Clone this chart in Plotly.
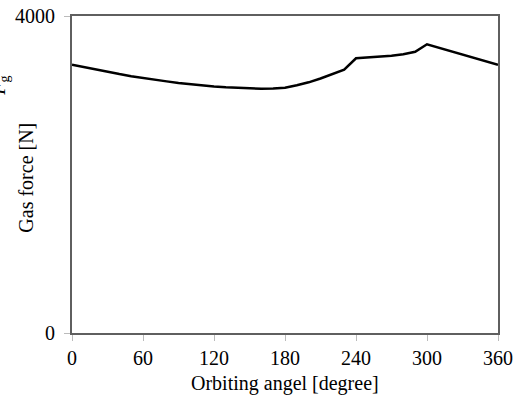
import plotly.graph_objects as go

angle = [0, 10, 20, 30, 40, 50, 60, 70, 80, 90, 100, 110, 120, 130, 140, 150, 160, 170,
         180, 190, 200, 210, 220, 230, 240, 250, 260, 270, 280, 290, 300, 310, 320, 330,
         340, 350, 360]
gas_force = [3386, 3354, 3323, 3294, 3267, 3241, 3217, 3195, 3175, 3156, 3139, 3124, 3111,
             3100, 3092, 3086, 3083, 3086, 3096, 3126, 3163, 3212, 3264, 3322, 3466, 3474,
             3485, 3499, 3518, 3548, 3643, 3600, 3557, 3513, 3470, 3426, 3384]
x_ticks = [0, 60, 120, 180, 240, 300, 360]
y_ticks = [0, 4000]

font = "Liberation Serif, Times New Roman, serif"
axcol = "#5f5f5f"
fs = 20

fig = go.Figure()
fig.add_trace(go.Scatter(x=angle, y=gas_force, mode="lines",
                         line=dict(color="black", width=2.5), showlegend=False))

fig.update_layout(
    width=522, height=402,
    margin=dict(l=72, r=24, t=16, b=69, autoexpand=False),
    paper_bgcolor="white", plot_bgcolor="white",
    font=dict(family=font, size=fs, color="black"),
)
fig.update_xaxes(range=[0, 360], tickvals=x_ticks, showgrid=False, zeroline=False,
                 showline=True, linecolor=axcol, linewidth=2, mirror=True,
                 ticks="outside", ticklen=6, tickcolor="#bbbbbb", tickwidth=1,
                 automargin=False, tickfont=dict(family=font, size=fs))
fig.update_yaxes(range=[0, 4000], tickvals=y_ticks, showgrid=False, zeroline=False,
                 showline=True, linecolor=axcol, linewidth=2, mirror=True,
                 ticks="outside", ticklen=6, tickcolor="#bbbbbb", tickwidth=1,
                 ticklabelstandoff=5,
                 automargin=False, tickfont=dict(family=font, size=fs))

# axis titles
fig.add_annotation(text="Orbiting angel [degree]", xref="paper", yref="paper",
                   x=0.5, y=0, yshift=-50, yanchor="middle", showarrow=False,
                   font=dict(family=font, size=fs))
fig.add_annotation(text="Gas force [N]", xref="paper", yref="paper",
                   x=0, xshift=-46, y=0.49, xanchor="center", yanchor="middle",
                   showarrow=False, textangle=-90, font=dict(family=font, size=fs))
fig.add_annotation(text="<i>F</i><sub>g</sub>", xref="paper", yref="paper",
                   x=0, xshift=-72, y=0.78, xanchor="center", yanchor="middle",
                   showarrow=False, textangle=-90, font=dict(family=font, size=fs))

fig.write_html("out.html")
